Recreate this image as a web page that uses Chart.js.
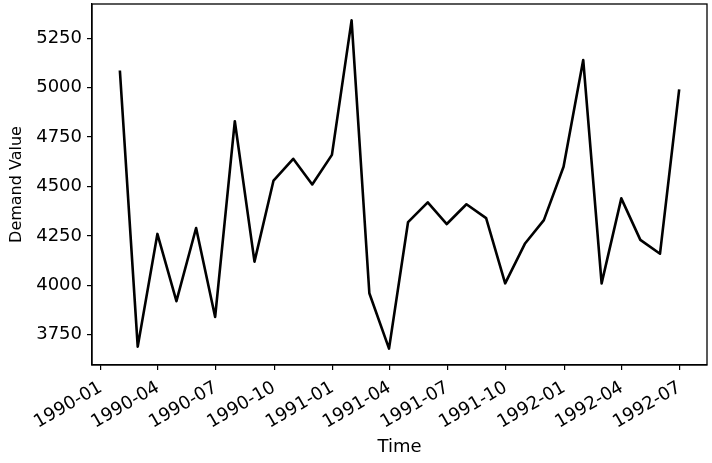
<!DOCTYPE html>
<html>
<head>
<meta charset="utf-8">
<script src="https://cdn.jsdelivr.net/npm/chart.js@4.4.1/dist/chart.umd.min.js"></script>
<style>
  html, body { margin: 0; padding: 0; background: #fff; }
  #wrap { width: 712px; height: 463px; }
</style>
</head>
<body>
<div id="wrap"><canvas id="demandChart"></canvas></div>
<script>
// month-end dates of the series
const dates = [
  '1990-01-31', '1990-02-28', '1990-03-31', '1990-04-30', '1990-05-31', '1990-06-30',
  '1990-07-31', '1990-08-31', '1990-09-30', '1990-10-31', '1990-11-30', '1990-12-31',
  '1991-01-31', '1991-02-28', '1991-03-31', '1991-04-30', '1991-05-31', '1991-06-30',
  '1991-07-31', '1991-08-31', '1991-09-30', '1991-10-31', '1991-11-30', '1991-12-31',
  '1992-01-31', '1992-02-29', '1992-03-31', '1992-04-30', '1992-05-31', '1992-06-30'
];
const demand = [
  5080, 3690, 4260, 3920, 4290, 3840,
  4830, 4120, 4530, 4640, 4510, 4660,
  5340, 3960, 3680, 4320, 4420, 4310,
  4410, 4340, 4010, 4210, 4330, 4600,
  5140, 4010, 4440, 4230, 4160, 4985
];
const xTickLabels = [
  '1990-01', '1990-04', '1990-07', '1990-10',
  '1991-01', '1991-04', '1991-07', '1991-10',
  '1992-01', '1992-04', '1992-07'
];
const yTicks = [3750, 4000, 4250, 4500, 4750, 5000, 5250];

const toMs = s => {
  const p = s.split('-').map(Number);
  return Date.UTC(p[0], (p[1] || 1) - 1, p[2] || 1);
};

const points = dates.map((d, i) => ({ x: toMs(d), y: demand[i] }));
const xTickVals = xTickLabels.map(toMs);

// matplotlib-like 5% margins
const xMin = points[0].x, xMax = points[points.length - 1].x;
const xPad = (xMax - xMin) * 0.05;
const yMinV = Math.min(...demand), yMaxV = Math.max(...demand);
const yPad = (yMaxV - yMinV) * 0.05;

const tickLabelOf = v => {
  const dt = new Date(v);
  return dt.getUTCFullYear() + '-' + String(dt.getUTCMonth() + 1).padStart(2, '0');
};

const frame = {
  id: 'frame',
  afterDraw(chart) {
    const { ctx, chartArea: a } = chart;
    ctx.save();
    ctx.strokeStyle = '#000';
    ctx.lineWidth = 1.3;
    ctx.strokeRect(a.left, a.top, a.right - a.left, a.bottom - a.top);
    ctx.restore();
  }
};

const TICK_FONT = { family: 'DejaVu Sans', size: 18 };

new Chart(document.getElementById('demandChart'), {
  type: 'line',
  data: {
    datasets: [{
      data: points,
      borderColor: '#000',
      borderWidth: 2.6,
      borderJoinStyle: 'round',
      borderCapStyle: 'square',
      pointRadius: 0,
      fill: false,
      tension: 0
    }]
  },
  options: {
    responsive: true,
    maintainAspectRatio: false,
    animation: false,
    layout: { padding: { top: 4, right: 5, left: 0, bottom: 0 } },
    plugins: { legend: { display: false }, tooltip: { enabled: false } },
    scales: {
      x: {
        type: 'linear',
        min: xMin - xPad,
        max: xMax + xPad,
        afterBuildTicks: s => { s.ticks = xTickVals.map(v => ({ value: v })); },
        afterFit: s => { s.height = 98; s.paddingLeft = 0; s.paddingRight = 0; },
        ticks: {
          autoSkip: false,
          minRotation: 30,
          maxRotation: 30,
          padding: 7,
          color: '#000',
          font: TICK_FONT,
          callback: v => tickLabelOf(v)
        },
        grid: { drawOnChartArea: false, drawTicks: true, tickLength: 5, color: '#000', lineWidth: 1.2 },
        border: { display: true, color: '#000', width: 1.3 },
        title: { display: true, text: 'Time', color: '#000', font: { family: 'DejaVu Sans', size: 18 }, padding: { top: 0, bottom: 5 } }
      },
      y: {
        min: yMinV - yPad,
        max: yMaxV + yPad,
        afterBuildTicks: s => { s.ticks = yTicks.map(v => ({ value: v })); },
        afterFit: s => { s.width = 92; s.paddingTop = 0; s.paddingBottom = 0; },
        ticks: { padding: 5, color: '#000', font: TICK_FONT, callback: v => String(v) },
        grid: { drawOnChartArea: false, drawTicks: true, tickLength: 5, color: '#000', lineWidth: 1.2 },
        border: { display: true, color: '#000', width: 1.3 },
        title: { display: true, text: 'Demand Value', color: '#000', font: { family: 'DejaVu Sans', size: 16 }, padding: { top: 7, bottom: 0 } }
      }
    }
  },
  plugins: [frame]
});
</script>
</body>
</html>
